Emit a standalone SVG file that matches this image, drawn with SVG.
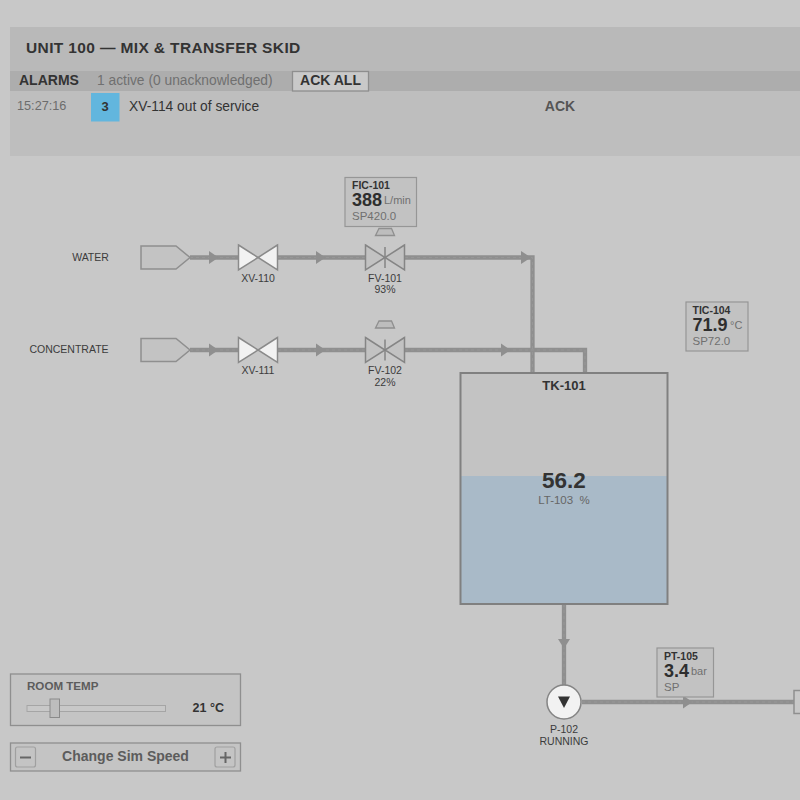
<svg xmlns="http://www.w3.org/2000/svg" width="800" height="800" viewBox="0 0 800 800">
<style>
text{font-family:"Liberation Sans",Arial,sans-serif;fill:#333}
.pipe{fill:none;stroke:#8f8f8f;stroke-width:4.300}
.flow{fill:none;stroke:#979797;stroke-width:1;stroke-dasharray:3 3}
.ah{fill:#8f8f8f}
.src{fill:#c3c3c3;stroke:#8f8f8f;stroke-width:1.500}
.vw{fill:#f2f2f2;stroke:#8a8a8a;stroke-width:1.500}
.vg{fill:#c2c2c2;stroke:#858585;stroke-width:1.500}
.act{fill:#bdbdbd;stroke:#8f8f8f;stroke-width:1.300}
.box{fill:#c2c2c2;stroke:#969696;stroke-width:1.200}
.lbl{font-size:10.500px;fill:#3c3c3c;text-anchor:middle}
.tag{font-size:10.500px;font-weight:bold;fill:#333}
.val{font-size:18px;font-weight:bold;fill:#2e2e2e}
.unit{font-size:11px;fill:#707070}
.sp{font-size:11.500px;fill:#707070}
.btn{fill:#c4c4c4;stroke:#a0a0a0;stroke-width:1.200}
</style>
<rect width="800" height="800" fill="#c8c8c8"/>
<g id="header">
<rect x="10" y="27" width="790" height="44" fill="#b9b9b9"/>
<text x="26" y="53" font-size="15.500" font-weight="bold" letter-spacing="0.370" fill="#333">UNIT 100 — MIX &amp; TRANSFER SKID</text>
</g>
<g id="alarms">
<rect x="10" y="71" width="790" height="20" fill="#adadad"/>
<rect x="10" y="91" width="790" height="65" fill="#bebebe"/>
<text x="19" y="85" font-size="14" font-weight="bold" fill="#333">ALARMS</text>
<text x="97" y="85" font-size="13.800" style="fill:#707070">1 active (0 unacknowledged)</text>
<rect x="292.500" y="71.500" width="76" height="19.500" fill="#c9c9c9" stroke="#8e8e8e" stroke-width="1.300"/>
<text x="330.500" y="85" font-size="14" font-weight="bold" text-anchor="middle">ACK ALL</text>
<text x="17" y="110" font-size="12.700" style="fill:#6c6c6c">15:27:16</text>
<rect x="91" y="93" width="28.500" height="28.500" fill="#62b6de"/>
<text x="105" y="111" font-size="13" font-weight="bold" text-anchor="middle">3</text>
<text x="129" y="111" font-size="13.800">XV-114 out of service</text>
<text x="560" y="111" font-size="14" font-weight="bold" text-anchor="middle" style="fill:#555">ACK</text>
</g>
<g id="connectors">
<path class="pipe" d="M190 257.500H238M278 257.500H365M405 257.500H532.500V373"/>
<path class="pipe" d="M190 350H238M278 350H365M405 350H585V373"/>
<path class="pipe" d="M564 604V686"/>
<path class="pipe" d="M582 702H794"/>
<path class="flow" d="M190 257.500H238M278 257.500H365M405 257.500H532.500V373"/>
<path class="flow" d="M190 350H238M278 350H365M405 350H585V373"/>
<path class="flow" d="M564 604V686"/>
<path class="flow" d="M582 702H794"/>
<path class="ah" d="M209 251L218.500 257.500L209 264Z"/>
<path class="ah" d="M316 251L325.500 257.500L316 264Z"/>
<path class="ah" d="M521 251L531 257.500L521 264Z"/>
<path class="ah" d="M209 343.500L218.500 350L209 356.500Z"/>
<path class="ah" d="M316 343.500L325.500 350L316 356.500Z"/>
<path class="ah" d="M501 343.500L510.500 350L501 356.500Z"/>
<path class="ah" d="M558 639L564 648.500L570 639Z"/>
<path class="ah" d="M683 695.500L692.500 702L683 708.500Z"/>
</g>
<g id="src-water"><path class="src" d="M141 246H176L190 257.500L176 269H141Z"/><text class="lbl" x="90.500" y="260.500">WATER</text></g>
<g id="src-concentrate"><path class="src" d="M141 338.500H176L190 350L176 361.500H141Z"/><text class="lbl" x="69" y="353">CONCENTRATE</text></g>
<g id="XV-110"><path class="vw" d="M238.500 245L258 257.500L238.500 270Z"/><path class="vw" d="M277.500 245L258 257.500L277.500 270Z"/><text class="lbl" x="258" y="282">XV-110</text></g>
<g id="XV-111"><path class="vw" d="M238.500 337.500L258 350L238.500 362.500Z"/><path class="vw" d="M277.500 337.500L258 350L277.500 362.500Z"/><text class="lbl" x="258" y="374">XV-111</text></g>
<g id="FV-101">
<path class="vg" d="M365.500 245L385 257.500L365.500 270Z"/><path class="vg" d="M404.500 245L385 257.500L404.500 270Z"/>
<path d="M385 247V268" stroke="#858585" stroke-width="1.500"/>
<path class="act" d="M379 228.500H391.500L394.500 235.500H375.500Z"/>
<text class="lbl" x="385" y="282">FV-101</text><text class="lbl" x="385" y="293">93%</text>
</g>
<g id="FV-102">
<path class="vg" d="M365.500 337.500L385 350L365.500 362.500Z"/><path class="vg" d="M404.500 337.500L385 350L404.500 362.500Z"/>
<path d="M385 339.500V360.500" stroke="#858585" stroke-width="1.500"/>
<path class="act" d="M379 321H391.500L394.500 328H375.500Z"/>
<text class="lbl" x="385" y="374">FV-102</text><text class="lbl" x="385" y="386">22%</text>
</g>
<g id="FIC-101">
<rect class="box" x="345" y="177.500" width="71.500" height="49"/>
<text class="tag" x="352" y="189">FIC-101</text>
<text class="val" x="352" y="206">388</text><text class="unit" x="384" y="204">L/min</text>
<text class="sp" x="352" y="220">SP420.0</text>
</g>
<g id="TIC-104">
<rect class="box" x="686" y="302" width="62" height="49"/>
<text class="tag" x="692.500" y="314">TIC-104</text>
<text class="val" x="692.500" y="331">71.9</text><text class="unit" x="730" y="329">°C</text>
<text class="sp" x="692.500" y="345">SP72.0</text>
</g>
<g id="TK-101">
<rect x="460.500" y="373" width="207" height="231" fill="#c3c3c3"/>
<rect x="460.500" y="476" width="207" height="128" fill="#a9bac8"/>
<rect x="460.500" y="373" width="207" height="231" fill="none" stroke="#808080" stroke-width="2"/>
<text x="564" y="390" font-size="13" font-weight="bold" text-anchor="middle">TK-101</text>
<text x="564" y="488" font-size="22.500" font-weight="bold" text-anchor="middle" fill="#2e2e2e">56.2</text>
<text x="564" y="504" font-size="11.500" text-anchor="middle" style="fill:#666" xml:space="preserve">LT-103  %</text>
</g>
<g id="P-102">
<circle cx="564" cy="702" r="17" fill="#f2f2f2" stroke="#858585" stroke-width="1.500"/>
<path d="M558 696.500H570L564 708Z" fill="#333"/>
<text class="lbl" x="564" y="733">P-102</text><text class="lbl" x="564" y="745">RUNNING</text>
</g>
<g id="PT-105">
<rect class="box" x="657" y="648" width="56.500" height="49"/>
<text class="tag" x="664" y="660">PT-105</text>
<text class="val" x="664" y="677">3.4</text><text class="unit" x="691" y="675">bar</text>
<text class="sp" x="664" y="691">SP</text>
</g>
<g id="outlet"><rect x="794" y="690.500" width="8" height="23" fill="#c8c8c8" stroke="#8f8f8f" stroke-width="1.500"/></g>
<g id="room-temp">
<rect x="10.500" y="674" width="230" height="51.500" fill="#c4c4c4" stroke="#8f8f8f" stroke-width="1.300"/>
<text x="27" y="690" font-size="11.600" font-weight="bold" style="fill:#5c5c5c">ROOM TEMP</text>
<rect x="27" y="705.500" width="138.500" height="6" fill="#c8c8c8" stroke="#a5a5a5"/>
<rect x="50" y="699" width="9.500" height="18.500" fill="#bdbdbd" stroke="#8a8a8a"/>
<text x="224" y="712" font-size="12.500" font-weight="bold" text-anchor="end">21 °C</text>
</g>
<g id="sim-speed">
<rect x="10.500" y="743" width="230" height="28" fill="#c4c4c4" stroke="#8f8f8f" stroke-width="1.300"/>
<rect class="btn" x="15.500" y="747" width="20" height="20" rx="2"/>
<path d="M20 757.500H31" stroke="#666" stroke-width="2"/>
<text x="125.500" y="761" font-size="14" font-weight="bold" text-anchor="middle" style="fill:#5c5c5c">Change Sim Speed</text>
<rect class="btn" x="215" y="747" width="20" height="20" rx="2"/>
<path d="M220 757.500H231M225.500 752V763" stroke="#666" stroke-width="2"/>
</g>
</svg>
